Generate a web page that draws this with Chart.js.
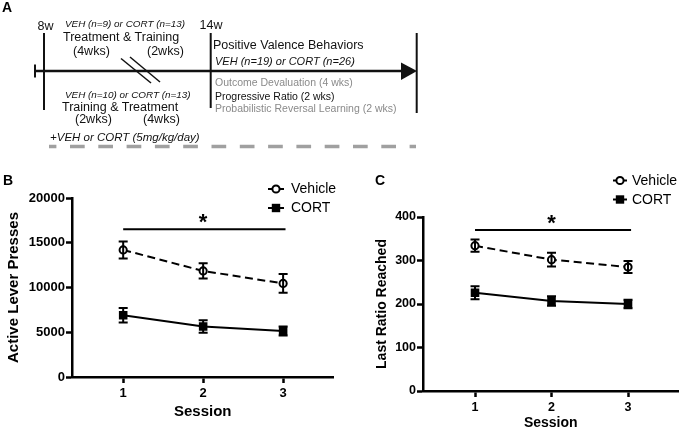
<!DOCTYPE html>
<html><head><meta charset="utf-8">
<script src="https://cdn.jsdelivr.net/npm/chart.js@4.4.1/dist/chart.umd.min.js"></script>
<style>
html,body{margin:0;padding:0;background:#fff;overflow:hidden;}
#wrap{position:relative;width:685px;height:428px;overflow:hidden;background:#fff;}
#cB{position:absolute;left:0;top:165px;width:340px;height:263px;}
#cC{position:absolute;left:340px;top:165px;width:345px;height:280px;}
#ov{position:absolute;left:0;top:0;z-index:2;pointer-events:none;}
</style></head>
<body><div id="wrap">
<canvas id="cB" width="340" height="263"></canvas>
<canvas id="cC" width="345" height="280"></canvas>
<svg id="ov" width="685" height="428" xmlns="http://www.w3.org/2000/svg" font-family="'Liberation Sans', Arial, Helvetica, sans-serif">
  <text x="2" y="12" font-size="14" font-weight="bold">A</text>
  <text x="3" y="185" font-size="14" font-weight="bold">B</text>
  <text x="375" y="185" font-size="14" font-weight="bold">C</text>
  <g stroke="#111" fill="none">
    <line x1="35" y1="71" x2="404" y2="71" stroke-width="2.6"/>
    <line x1="35" y1="64.5" x2="35" y2="77.5" stroke-width="2"/>
    <line x1="44" y1="33" x2="44" y2="110" stroke-width="2"/>
    <line x1="210.7" y1="33" x2="210.7" y2="108" stroke-width="2"/>
    <line x1="416.7" y1="33" x2="416.7" y2="113" stroke-width="2"/>
    <line x1="121" y1="58.5" x2="151" y2="83" stroke-width="1.5"/>
    <line x1="130" y1="57" x2="160" y2="82" stroke-width="1.5"/>
  </g>
  <polygon points="401,62.5 417,71 401,80" fill="#111"/>
  <line x1="49" y1="146.5" x2="416" y2="146.5" stroke="#a0a0a0" stroke-width="3.3" stroke-dasharray="14.7 13.6" stroke-dashoffset="7.3"/>
  <g fill="#111">
    <text x="37.5" y="30" font-size="12.5">8w</text>
    <text x="199.5" y="28.5" font-size="12.5">14w</text>
    <text x="65" y="27" font-size="9.9" font-style="italic">VEH (n=9) or CORT (n=13)</text>
    <text x="63" y="41" font-size="12.5">Treatment &amp; Training</text>
    <text x="73" y="55" font-size="12.5">(4wks)</text>
    <text x="147" y="55" font-size="12.5">(2wks)</text>
    <text x="65" y="97.5" font-size="9.9" font-style="italic">VEH (n=10) or CORT (n=13)</text>
    <text x="62" y="111" font-size="12.5">Training &amp; Treatment</text>
    <text x="75" y="123" font-size="12.5">(2wks)</text>
    <text x="143" y="123" font-size="12.5">(4wks)</text>
    <text x="50" y="141" font-size="11.5" font-style="italic">+VEH or CORT (5mg/kg/day)</text>
    <text x="213" y="49" font-size="12.5">Positive Valence Behaviors</text>
    <text x="215" y="64.5" font-size="11" font-style="italic">VEH (n=19) or CORT (n=26)</text>
    <text x="215" y="86" font-size="10.5" fill="#8a8a8a">Outcome Devaluation (4 wks)</text>
    <text x="215" y="99.5" font-size="10.5">Progressive Ratio (2 wks)</text>
    <text x="215" y="112" font-size="10.5" fill="#8a8a8a">Probabilistic Reversal Learning (2 wks)</text>
  </g>
</svg>
</div>
<script>
// ---- data ----
const sessions = [1, 2, 3];
const seriesNames = ['Vehicle', 'CORT'];
const vehicleB = [14200, 11850, 10450];
const vehicleBsem = [950, 850, 1050];
const cortB = [6900, 5650, 5150];
const cortBsem = [800, 700, 500];
const vehicleC = [334, 302, 285];
const vehicleCsem = [14, 16, 14];
const cortC = [226, 207, 200];
const cortCsem = [15, 11, 10];
const xTicks = [1, 2, 3];
const yTicksB = [0, 5000, 10000, 15000, 20000];
const yTicksC = [0, 100, 200, 300, 400];
const sigB = [1, 3.03, 16500];
const sigC = [1, 3.04, 370];
const starMark = '*';

const FONT = "'Liberation Sans', Arial, Helvetica, sans-serif";

const errorBars = {
  id: 'errorBars',
  afterDatasetsDraw(chart, args, opts) {
    const {ctx, scales: {x, y}} = chart;
    ctx.save();
    ctx.strokeStyle = '#000';
    ctx.lineWidth = 2;
    chart.data.datasets.forEach(ds => {
      ds.data.forEach((p, i) => {
        const e = ds.errors[i];
        const px = x.getPixelForValue(p.x);
        const yt = y.getPixelForValue(p.y + e), yb = y.getPixelForValue(p.y - e);
        const c = opts.cap;
        ctx.beginPath();
        ctx.moveTo(px, yt); ctx.lineTo(px, yb);
        ctx.moveTo(px - c, yt); ctx.lineTo(px + c, yt);
        ctx.moveTo(px - c, yb); ctx.lineTo(px + c, yb);
        ctx.stroke();
      });
    });
    ctx.restore();
  }
};

const sigPlugin = {
  id: 'sig',
  afterDatasetsDraw(chart, args, opts) {
    const {ctx, scales: {x, y}} = chart;
    const [a, b, v] = opts.bar;
    const py = y.getPixelForValue(v);
    ctx.save();
    ctx.strokeStyle = '#000';
    ctx.lineWidth = 2;
    ctx.beginPath();
    ctx.moveTo(x.getPixelForValue(a), py);
    ctx.lineTo(x.getPixelForValue(b), py);
    ctx.stroke();
    ctx.fillStyle = '#000';
    ctx.font = 'bold 22px ' + FONT;
    ctx.textAlign = 'center';
    ctx.textBaseline = 'alphabetic';
    ctx.fillText(opts.label, x.getPixelForValue(2), py + opts.starDy);
    ctx.restore();
  }
};

const legendPlugin = {
  id: 'customLegend',
  afterDraw(chart, args, opts) {
    const ctx = chart.ctx;
    ctx.save();
    chart.data.datasets.forEach((ds, i) => {
      const cy = opts.y0 + i * opts.dy;
      const cx = opts.x;
      ctx.strokeStyle = '#000';
      ctx.lineWidth = 2;
      ctx.setLineDash([]);
      ctx.beginPath();
      ctx.moveTo(cx - opts.half, cy); ctx.lineTo(cx + opts.half, cy);
      ctx.stroke();
      if (ds.pointStyle === 'circle') {
        ctx.beginPath();
        ctx.arc(cx, cy, 3.6, 0, Math.PI * 2);
        ctx.fillStyle = '#fff';
        ctx.fill();
        ctx.stroke();
      } else {
        ctx.fillStyle = '#000';
        ctx.fillRect(cx - 4.2, cy - 4.2, 8.4, 8.4);
      }
      ctx.fillStyle = '#000';
      ctx.font = '14px ' + FONT;
      ctx.textAlign = 'left';
      ctx.textBaseline = 'middle';
      ctx.fillText(ds.label, opts.textX, cy + 0.5);
    });
    ctx.restore();
  }
};

function makeDatasets(veh, vehE, cort, cortE) {
  return [
    {
      label: seriesNames[0],
      data: sessions.map((s, i) => ({x: s, y: veh[i]})),
      errors: vehE,
      borderColor: '#000', borderWidth: 2, borderDash: [8, 4.5],
      pointStyle: 'circle', pointRadius: 3.6, pointBorderWidth: 2,
      pointBackgroundColor: '#fff', pointBorderColor: '#000',
      tension: 0, fill: false
    },
    {
      label: seriesNames[1],
      data: sessions.map((s, i) => ({x: s, y: cort[i]})),
      errors: cortE,
      borderColor: '#000', borderWidth: 2,
      pointStyle: 'rect', pointRadius: 5, pointBorderWidth: 1.5,
      pointBackgroundColor: '#000', pointBorderColor: '#000',
      tension: 0, fill: false
    }
  ];
}

function makeChart(id, o) {
  return new Chart(document.getElementById(id), {
    type: 'line',
    data: {datasets: o.datasets},
    options: {
      responsive: false, animation: false, devicePixelRatio: 1,
      layout: {padding: o.padding},
      plugins: {
        legend: {display: false}, tooltip: {enabled: false},
        errorBars: {cap: 4.5},
        sig: {bar: o.sig, label: starMark, starDy: 0},
        customLegend: o.legend
      },
      scales: {
        x: {
          type: 'linear', min: o.xmin, max: o.xmax,
          afterBuildTicks: s => { s.ticks = xTicks.map(v => ({value: v})); },
          afterFit: s => { s.height = o.xh; },
          grid: {display: true, drawOnChartArea: false, drawTicks: true, tickLength: 6, tickWidth: 2.5, tickColor: '#000'},
          border: {display: true, color: '#000', width: 2.5},
          ticks: {color: '#000', padding: 3, maxRotation: 0, callback: v => String(v), font: {family: FONT, size: o.tickSize, weight: 'bold'}},
          title: {display: true, text: 'Session', color: '#000', font: {family: FONT, size: o.titleSize, weight: 'bold'}, padding: {top: 0, bottom: o.xtPad}}
        },
        y: {
          type: 'linear', min: o.yTicks[0], max: o.yTicks[o.yTicks.length - 1],
          afterBuildTicks: s => { s.ticks = o.yTicks.map(v => ({value: v})); },
          afterFit: s => { s.width = o.yw; },
          grid: {display: true, drawOnChartArea: false, drawTicks: true, tickLength: 6, tickWidth: 2.5, tickColor: '#000'},
          border: {display: true, color: '#000', width: 2.5},
          ticks: {color: '#000', padding: 1, callback: v => String(v), font: {family: FONT, size: o.tickSize, weight: 'bold'}},
          title: {display: true, text: o.yTitle, color: '#000', font: {family: FONT, size: o.titleSize, weight: 'bold'}, padding: {top: o.ytPad, bottom: 0}}
        }
      }
    },
    plugins: [errorBars, sigPlugin, legendPlugin]
  });
}

makeChart('cB', {
  datasets: makeDatasets(vehicleB, vehicleBsem, cortB, cortBsem),
  padding: {top: 33, right: 1, left: 0, bottom: 0},
  xmin: 0.36, xmax: 3.63, xh: 51, yw: 72,
  yTicks: yTicksB, yTitle: 'Active Lever Presses',
  tickSize: 13, titleSize: 15, xtPad: 7, ytPad: 5,
  sig: sigB,
  legend: {x: 276, y0: 24, dy: 19, half: 8, textX: 291}
});

makeChart('cC', {
  datasets: makeDatasets(vehicleC, vehicleCsem, cortC, cortCsem),
  padding: {top: 52, right: 2, left: 0, bottom: 0},
  xmin: 0.32, xmax: 3.66, xh: 54, yw: 83,
  yTicks: yTicksC, yTitle: 'Last Ratio Reached',
  tickSize: 12.5, titleSize: 14, xtPad: 13.6, ytPad: 33.3,
  sig: sigC,
  legend: {x: 280, y0: 15.5, dy: 19, half: 7, textX: 292}
});
</script>
</body></html>
